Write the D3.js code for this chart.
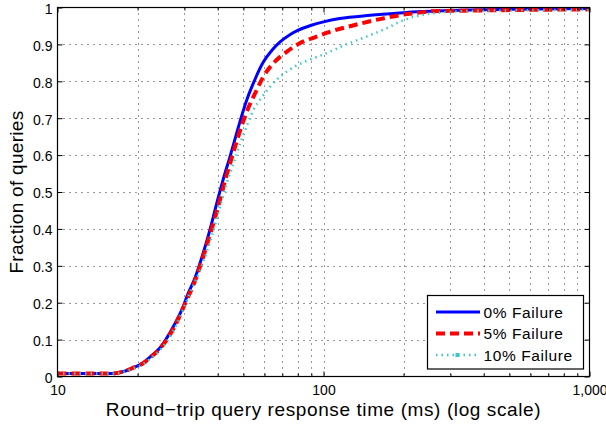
<!DOCTYPE html>
<html>
<head>
<meta charset="utf-8">
<script src="https://cdn.jsdelivr.net/npm/d3@7"></script>
<style>
  body { margin: 0; background: #fff; }
  svg { display: block; font-family: "Liberation Sans", Arial, Helvetica, sans-serif; }
</style>
</head>
<body>
<svg id="chart" width="606" height="426"></svg>
<script>
// Values (response time in ms, fraction of queries)
var fail0X = [10, 16, 18, 19.3, 21, 22.3, 24.3, 27.3, 29.7, 30.7, 33, 35.3, 37.5, 39.7, 42, 44.6, 46, 48.5, 51.5, 54.5, 59.4, 64, 68.5, 75, 80, 90, 100, 115, 150, 200, 230, 300, 500, 1000];
var fail0Y = [0.008, 0.008, 0.015, 0.024, 0.037, 0.053, 0.078, 0.136, 0.19, 0.218, 0.27, 0.335, 0.4, 0.47, 0.535, 0.598, 0.632, 0.69, 0.75, 0.795, 0.852, 0.884, 0.906, 0.927, 0.938, 0.952, 0.961, 0.970, 0.979, 0.986, 0.989, 0.992, 0.995, 0.997];

var fail5X = [10, 16, 18, 19.3, 21, 22.3, 24.3, 27.3, 30.7, 33, 35.3, 38, 40.5, 43, 45.5, 47.2, 48.5, 52.1, 55.3, 59.4, 65.6, 72.7, 81.4, 94.2, 108.9, 127, 147, 169, 197, 224, 259, 388, 1000];
var fail5Y = [0.008, 0.008, 0.015, 0.024, 0.036, 0.051, 0.076, 0.13, 0.21, 0.262, 0.325, 0.4, 0.47, 0.54, 0.6, 0.638, 0.665, 0.727, 0.767, 0.8125, 0.853, 0.88, 0.903, 0.921, 0.937, 0.95, 0.9615, 0.971, 0.98, 0.985, 0.99, 0.992, 0.995];

var fail10X = [10, 16, 18, 19.3, 21, 22.3, 24.3, 27.3, 31.5, 35.3, 38, 40.5, 43.3, 46, 48.5, 50, 52.2, 54.5, 58, 63.8, 68, 72.7, 78, 85, 102.6, 120, 145, 173, 202, 244, 283, 330, 500, 1000];
var fail10Y = [0.008, 0.008, 0.014, 0.022, 0.034, 0.048, 0.072, 0.125, 0.227, 0.31, 0.38, 0.45, 0.524, 0.58, 0.63, 0.655, 0.69, 0.722, 0.752, 0.79, 0.81, 0.826, 0.84, 0.853, 0.876, 0.898, 0.921, 0.944, 0.967, 0.982, 0.987, 0.99, 0.992, 0.994];

var seriesNames = ['0% Failure', '5% Failure', '10% Failure'];
var xMajorTicks = [10, 100, 1000];
var xMajorLabels = ['10', '100', '1,000'];
var xMinorTicks = [20, 30, 40, 50, 60, 70, 80, 90, 200, 300, 400, 500, 600, 700, 800, 900];
var yTicks = [0, 0.1, 0.2, 0.3, 0.4, 0.5, 0.6, 0.7, 0.8, 0.9, 1];
var yTickLabels = ['0', '0.1', '0.2', '0.3', '0.4', '0.5', '0.6', '0.7', '0.8', '0.9', '1'];

var svg = d3.select('#chart');

// plot box (note: "top" is a reserved global in browsers)
var plotL = 57.5, plotR = 589.5, plotT = 7.5, plotB = 376.5;

var x = d3.scaleLog().domain([10, 1000]).range([plotL, plotR]);
var y = d3.scaleLinear().domain([0, 1]).range([plotB, plotT]);

// dotted grid
var grid = svg.append('g').attr('stroke', '#333').attr('stroke-width', 1).attr('stroke-dasharray', '1,5');
grid.selectAll('line.gx')
  .data(xMinorTicks.concat([100]))
  .enter().append('line')
  .attr('x1', d => Math.round(x(d)) + 0.5).attr('x2', d => Math.round(x(d)) + 0.5)
  .attr('y1', plotT).attr('y2', plotB);
grid.selectAll('line.gy')
  .data(yTicks.slice(1, -1))
  .enter().append('line')
  .attr('x1', plotL).attr('x2', plotR)
  .attr('y1', d => Math.round(y(d)) + 0.5).attr('y2', d => Math.round(y(d)) + 0.5);

// series
var series = [
  { name: seriesNames[0], xs: fail0X, ys: fail0Y, color: '#0000ff', width: 3, dash: null },
  { name: seriesNames[1], xs: fail5X, ys: fail5Y, color: '#ff0000', width: 4, dash: '9,5' },
  { name: seriesNames[2], xs: fail10X, ys: fail10Y, color: '#3cc8c8', width: 2.5, dash: '1.5,4' }
];

var line = d3.line()
  .x(d => x(d[0]))
  .y(d => y(d[1]))
  .curve(d3.curveMonotoneX);

svg.append('g').selectAll('path')
  .data(series)
  .enter().append('path')
  .attr('fill', 'none')
  .attr('stroke', d => d.color)
  .attr('stroke-width', d => d.width)
  .attr('stroke-dasharray', d => d.dash)
  .attr('d', d => line(d3.zip(d.xs, d.ys)));

// axes (MATLAB style box, inward ticks)
function styleAxis(g) {
  g.select('.domain').remove();
  g.selectAll('line').attr('stroke', '#000');
  g.selectAll('text').attr('fill', '#000');
}

svg.append('g')
  .attr('transform', 'translate(0,' + plotB + ')')
  .call(d3.axisBottom(x).tickValues(xMajorTicks).tickSize(-5).tickPadding(9)
    .tickFormat((d, i) => xMajorLabels[i]))
  .call(styleAxis)
  .selectAll('text').attr('font-size', 14);

svg.append('g')
  .attr('transform', 'translate(0,' + plotB + ')')
  .call(d3.axisBottom(x).tickValues(xMinorTicks).tickSize(-3).tickFormat(''))
  .call(styleAxis);

svg.append('g')
  .attr('transform', 'translate(0,' + plotT + ')')
  .call(d3.axisTop(x).tickValues(xMajorTicks).tickSize(-5).tickFormat(''))
  .call(styleAxis);

svg.append('g')
  .attr('transform', 'translate(0,' + plotT + ')')
  .call(d3.axisTop(x).tickValues(xMinorTicks).tickSize(-3).tickFormat(''))
  .call(styleAxis);

svg.append('g')
  .attr('transform', 'translate(' + plotL + ',0)')
  .call(d3.axisLeft(y).tickValues(yTicks).tickSize(-5).tickPadding(5)
    .tickFormat((d, i) => yTickLabels[i]))
  .call(styleAxis)
  .selectAll('text').attr('font-size', 14).attr('dy', '0.42em');

svg.append('g')
  .attr('transform', 'translate(' + plotR + ',0)')
  .call(d3.axisRight(y).tickValues(yTicks).tickSize(-5).tickFormat(''))
  .call(styleAxis);

// box
svg.append('rect')
  .attr('x', plotL).attr('y', plotT)
  .attr('width', plotR - plotL).attr('height', plotB - plotT)
  .attr('fill', 'none').attr('stroke', '#000').attr('stroke-width', 1.2);

// axis titles
svg.append('text')
  .attr('x', (plotL + plotR) / 2).attr('y', 415.5)
  .attr('text-anchor', 'middle')
  .attr('font-size', 19).attr('letter-spacing', 0.6)
  .text('Round\u2212trip query response time (ms) (log scale)');

svg.append('text')
  .attr('transform', 'translate(22.5,' + (plotT + plotB) / 2 + ') rotate(-90)')
  .attr('text-anchor', 'middle')
  .attr('font-size', 19).attr('letter-spacing', 0.3)
  .text('Fraction of queries');

// legend
var legend = svg.append('g').attr('transform', 'translate(427.5,295.5)');
legend.append('rect')
  .attr('width', 156).attr('height', 73.5)
  .attr('fill', '#fff').attr('stroke', '#000').attr('stroke-width', 1.2);

var rows = legend.selectAll('g.row')
  .data(series)
  .enter().append('g')
  .attr('transform', (d, i) => 'translate(0,' + (16.5 + i * 21.5) + ')');

rows.append('line')
  .attr('x1', 8.5).attr('x2', 52.5)
  .attr('stroke', d => d.color)
  .attr('stroke-width', d => d.width)
  .attr('stroke-dasharray', d => d.dash);

rows.filter((d, i) => i === 2).append('rect')
  .attr('x', 28).attr('y', -2).attr('width', 4).attr('height', 4)
  .attr('fill', d => d.color);

rows.append('text')
  .attr('x', 56).attr('dy', '0.36em')
  .attr('font-size', 15.5).attr('letter-spacing', 0.6)
  .text(d => d.name);
</script>
</body>
</html>
